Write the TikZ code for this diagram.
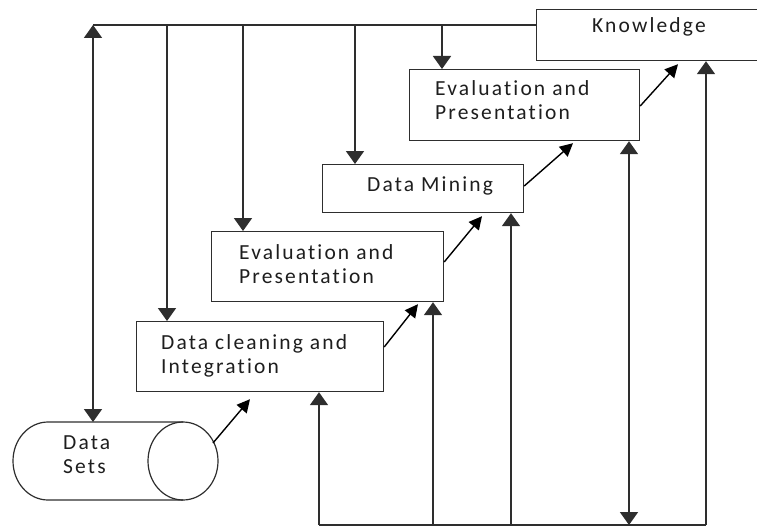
\documentclass[tikz,border=0pt]{standalone}
\usepackage{fontspec}
\setmainfont{Carlito}[LetterSpace=10, Ligatures=NoCommon]
\usetikzlibrary{arrows.meta,calc}
\definecolor{ink}{HTML}{1E1E1E}
\definecolor{edge}{HTML}{2E2E2E}
\begin{document}
\begin{tikzpicture}[x=1pt,y=-1pt,
  box/.style={draw=edge, line width=1.2pt, fill=white, anchor=north west, inner sep=0pt},
  lbl/.style={anchor=base west, align=left, inner sep=0pt, text=ink,
    font=\fontsize{21.5}{24}\selectfont},
  wire/.style={draw=edge, line width=1.8pt},
  bigtip/.tip={Triangle[width=18pt,length=13pt]},
  smalltip/.tip={Triangle[width=13pt,length=13pt]},
  flow/.style={wire, -bigtip},
  twoway/.style={wire, bigtip-bigtip},
  hop/.style={draw=black, line width=1.4pt, -smalltip},
  can/.style={draw=edge, line width=1.2pt}
]
\useasboundingbox (0,0) rectangle (757,527);

% process boxes
\node[box, minimum width=226pt, minimum height=51pt] (kn)  at (536,9)   {};
\node[box, minimum width=230pt, minimum height=71pt] (ev2) at (409,69)  {};
\node[box, minimum width=201pt, minimum height=48pt] (dm)  at (322,164) {};
\node[box, minimum width=232pt, minimum height=70pt] (ev1) at (211,231) {};
\node[box, minimum width=247pt, minimum height=70pt] (dc)  at (136,321) {};

% data store drawn as a horizontal can
\draw[can] (183,422) -- (48,422)
  arc[start angle=270, end angle=90, x radius=35, y radius=39] -- (183,500);
\draw[can] (183,461) ellipse [x radius=35, y radius=39];
\coordinate (ds-top) at (93,422);
\coordinate (ds-rim) at (213,443);

% labels (two-line labels are placed by the baseline of their last line)
\node[lbl] (kn-t)  at (592,33)  {Knowledge};
\node[lbl] (ev2-t) at (435,119) {Evaluation and\\Presentation};
\node[lbl] (dm-t)  at (367,191) {Data Mining};
\node[lbl] (ev1-t) at (239,283) {Evaluation and\\Presentation};
\node[lbl] (dc-t)  at (161,373) {Data cleaning and\\Integration};
\node[lbl] (ds-t)  at (63,473)  {Data\\Sets};

% top feedback bus
\coordinate (tb-l) at (93,25);
\coordinate (tb-r) at ($(kn.north west)+(0,16)$);
\draw[wire] (tb-l) -- (tb-r);
\draw[twoway] (tb-l) -- (ds-top);

\coordinate (dc-in)  at ($(dc.north west)+(31,0)$);
\coordinate (ev1-in) at ($(ev1.north west)+(32,0)$);
\coordinate (dm-in)  at ($(dm.north west)+(33,0)$);
\coordinate (ev2-in) at ($(ev2.north west)+(33,0)$);
\draw[flow] (tb-l -| dc-in)  -- (dc-in);
\draw[flow] (tb-l -| ev1-in) -- (ev1-in);
\draw[flow] (tb-l -| dm-in)  -- (dm-in);
\draw[flow] (tb-l -| ev2-in) -- (ev2-in);

% bottom feedback bus
\coordinate (dc-up)  at ($(dc.south west)+(183,0)$);
\coordinate (ev1-up) at ($(ev1.south west)+(222,0)$);
\coordinate (dm-up)  at ($(dm.south west)+(189,0)$);
\coordinate (ev2-up) at ($(ev2.south west)+(220,0)$);
\coordinate (kn-up)  at ($(kn.south west)+(170,0)$);
\coordinate (bb) at (0,525);
\draw[wire] (bb -| dc-up) -- (bb -| kn-up);
\draw[flow] (bb -| dc-up)  -- (dc-up);
\draw[flow] (bb -| ev1-up) -- (ev1-up);
\draw[flow] (bb -| dm-up)  -- (dm-up);
\draw[twoway] (ev2-up) -- (bb -| ev2-up);
\draw[flow] (bb -| kn-up)  -- (kn-up);

% forward steps
\draw[hop] (ds-rim) -- ($(dc.south west)+(114,7)$);
\draw[hop] ($(dc.north east)+(0,26)$)  -- ($(ev1.south west)+(207,2)$);
\draw[hop] ($(ev1.north east)+(0,31)$) -- ($(dm.south west)+(160,3)$);
\draw[hop] ($(dm.north east)+(0,22)$)  -- ($(ev2.south west)+(164,2)$);
\draw[hop] ($(ev2.north east)+(0,37)$) -- ($(kn.south west)+(142,3)$);
\end{tikzpicture}
\end{document}
